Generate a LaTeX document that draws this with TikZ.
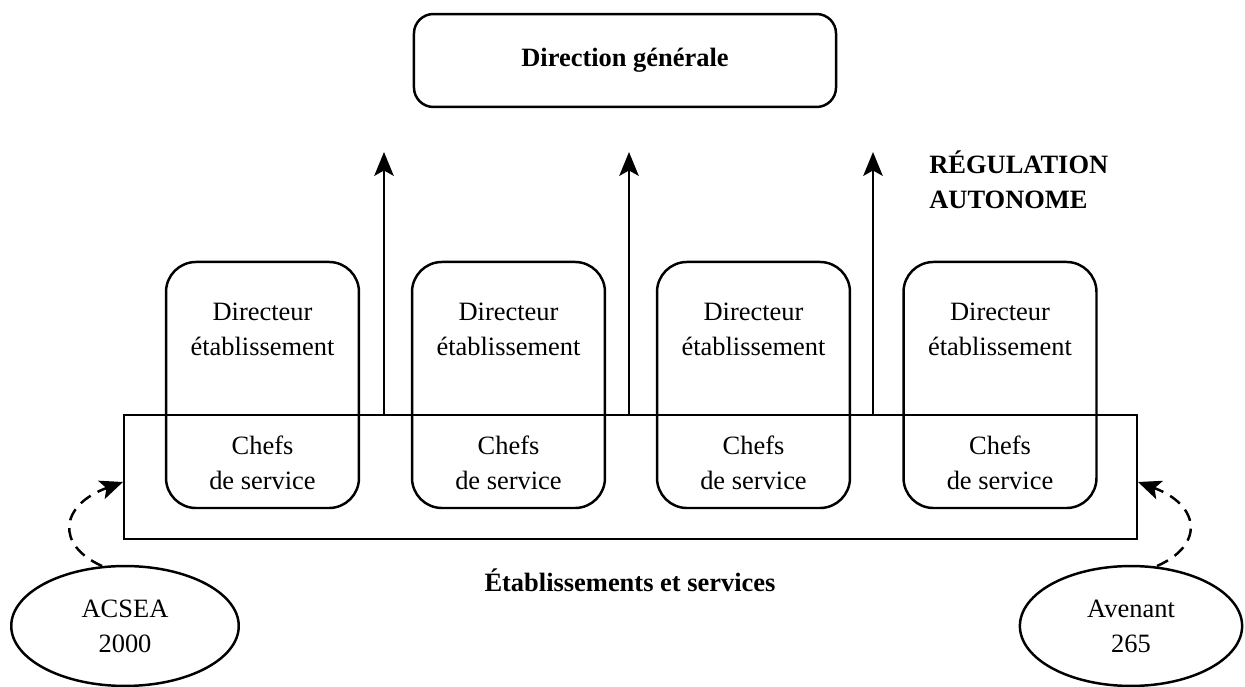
\documentclass[tikz,border=0pt]{standalone}
\usepackage{fontspec}
\setmainfont{Liberation Serif}
\usetikzlibrary{shapes.geometric,arrows.meta}
\begin{document}
\begin{tikzpicture}[x=0.567pt,y=-0.567pt,
  every node/.style={font=\fontsize{15}{19.8}\selectfont},
  lw/.style={line width=1.4pt},
  dirbox/.style={lw,draw,rounded corners=17pt,minimum width=109.4pt,minimum height=139.5pt,inner sep=0pt},
  topbox/.style={lw,draw,rounded corners=11pt,minimum width=239.3pt,minimum height=52.7pt,inner sep=0pt,font=\fontsize{15}{19.8}\selectfont\bfseries},
  etabbox/.style={lw,draw,minimum width=574.4pt,minimum height=70.3pt,inner sep=0pt},
  ell/.style={lw,draw,ellipse,minimum width=128pt,minimum height=68pt,inner sep=0pt,align=center},
  txt/.style={align=center,inner sep=0pt},
  btxt/.style={align=center,inner sep=0pt,font=\fontsize{15}{19.8}\selectfont\bfseries},
  arr/.style={lw,-{Stealth[length=13.5pt,width=11pt,inset=3pt]}},
  dasharr/.style={lw,dash pattern=on 7pt off 4.5pt,-{Stealth[length=13pt,width=11pt,inset=3pt]}}
]
\useasboundingbox (0,0) rectangle (1245,687);
% top
\node[topbox] (dg) at (625,60.5) {Direction générale};
% big rectangle
\node[etabbox] (etab) at (630.5,477) {};
% director boxes
\foreach \i/\x in {1/262.5,2/508.5,3/753.5,4/1000} {
  \node[dirbox] (d\i) at (\x,385) {};
  \node[txt] (dt\i) at (\x,329.5) {Directeur\\établissement};
  \node[txt] (ct\i) at (\x,462.5) {Chefs\\de service};
}
% arrows
\coordinate (a1s) at (384,415); \coordinate (a1e) at (384,152);
\coordinate (a2s) at (629,415); \coordinate (a2e) at (629,152);
\coordinate (a3s) at (873,415); \coordinate (a3e) at (873,152);
\draw[arr] (a1s) -- (a1e);
\draw[arr] (a2s) -- (a2e);
\draw[arr] (a3s) -- (a3e);
\node[btxt,align=left,anchor=west] (reg) at (929,180) {RÉGULATION\\AUTONOME};
\node[btxt] (etl) at (630,580) {Établissements et services};
% ellipses
\node[ell,minimum width=129pt] (acsea) at (125,626) {ACSEA\\2000};
\node[ell,minimum width=126pt] (aven) at (1131,626) {Avenant\\265};
\coordinate (ls) at (102,566); \coordinate (le) at (123,482);
\coordinate (rs) at (1157,566); \coordinate (re) at (1138,482);
\draw[dasharr] (ls) .. controls (55,545) and (60,505) .. (le);
\draw[dasharr] (rs) .. controls (1205,545) and (1200,505) .. (re);
\end{tikzpicture}
\end{document}
